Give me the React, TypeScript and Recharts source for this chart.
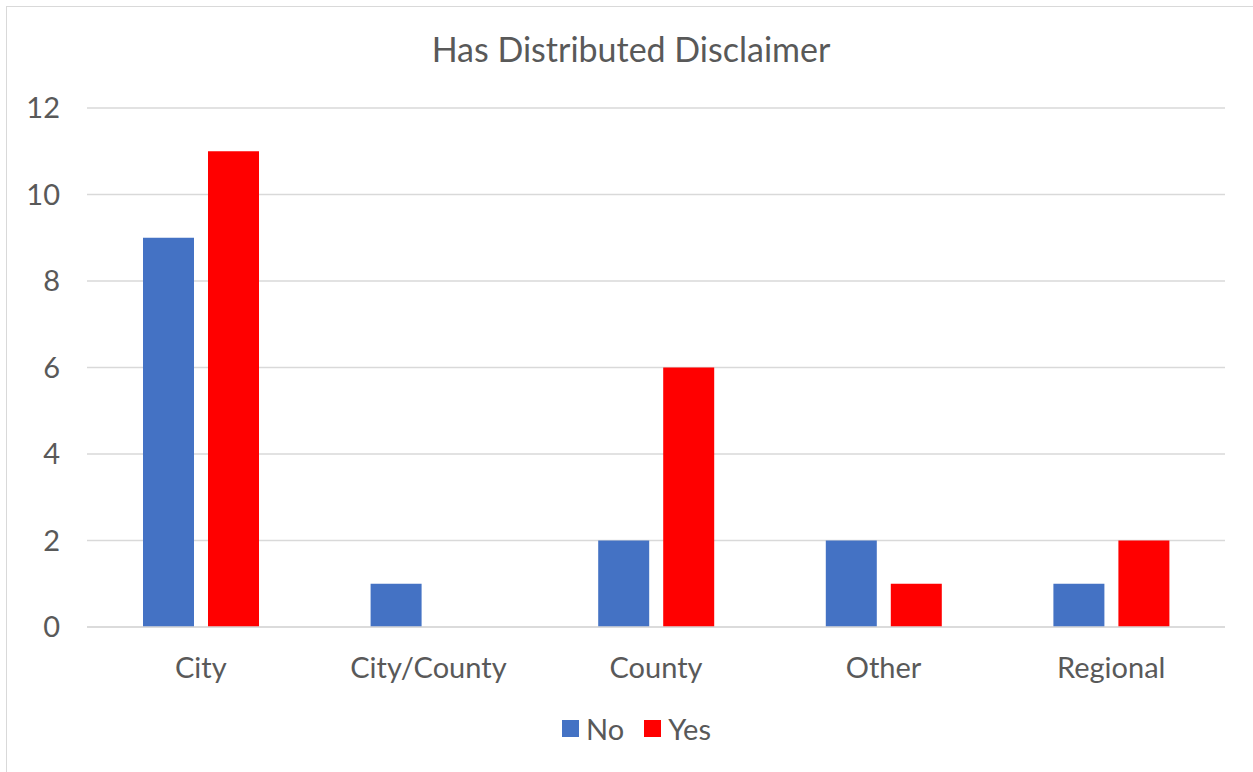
import React from 'react';
import { BarChart, Bar, XAxis, YAxis, CartesianGrid } from 'recharts';

const categories = ['City', 'City/County', 'County', 'Other', 'Regional'];
const noCounts = [9, 1, 2, 2, 1];
const yesCounts = [11, 0, 6, 1, 2];
const yTicks = [0, 2, 4, 6, 8, 10, 12];
const seriesNames = ['No', 'Yes'];
const seriesColors = ['#4472C4', '#FF0000'];

const data = categories.map((name, i) => ({ name, No: noCounts[i], Yes: yesCounts[i] }));

const FONT = 'Lato, "Open Sans", sans-serif';
const TEXT = '#595959';

export default function App() {
  return (
    <div
      style={{
        position: 'absolute',
        left: 0,
        top: 0,
        width: 1253,
        height: 772,
        overflow: 'hidden',
        background: '#fff',
        fontFamily: FONT,
      }}
    >
      <div
        style={{
          position: 'absolute',
          left: 6,
          top: 6,
          width: 1300,
          height: 800,
          border: '1px solid #d9d9d9',
        }}
      />
      <div
        style={{
          position: 'absolute',
          left: 0,
          top: 29,
          width: 1262,
          textAlign: 'center',
          fontSize: 34,
          color: TEXT,
          lineHeight: '40px',
        }}
      >
        Has Distributed Disclaimer
      </div>
      <div style={{ position: 'absolute', left: 0, top: 0 }}>
        <BarChart
          width={1253}
          height={772}
          data={data}
          margin={{ top: 108, right: 28, left: 0, bottom: 0 }}
          barCategoryGap={56}
          barGap={14}
        >
          <CartesianGrid vertical={false} stroke="#d9d9d9" strokeWidth={1.3} />
          <XAxis
            dataKey="name"
            axisLine={{ stroke: '#d9d9d9', strokeWidth: 1.3 }}
            tickLine={false}
            tickSize={0}
            tickMargin={30}
            tick={{ fill: TEXT, fontSize: 29, fontFamily: FONT }}
            height={145}
          />
          <YAxis
            domain={[0, 12]}
            ticks={yTicks}
            axisLine={false}
            tickLine={false}
            tickSize={0}
            tickMargin={27}
            width={87}
            tick={{ fill: TEXT, fontSize: 29, fontFamily: FONT }}
          />
          <Bar dataKey="No" fill={seriesColors[0]} isAnimationActive={false} />
          <Bar dataKey="Yes" fill={seriesColors[1]} isAnimationActive={false} />
        </BarChart>
      </div>
      <div
        style={{
          position: 'absolute',
          left: 0,
          top: 710,
          width: 1273,
          height: 36,
          display: 'flex',
          justifyContent: 'center',
          alignItems: 'center',
          gap: 20,
          fontSize: 29,
          color: TEXT,
        }}
      >
        {seriesNames.map((s, i) => (
          <div key={s} style={{ display: 'flex', alignItems: 'center', gap: 7 }}>
            <span style={{ width: 17, height: 17, background: seriesColors[i], display: 'inline-block' }} />
            <span>{s}</span>
          </div>
        ))}
      </div>
    </div>
  );
}
